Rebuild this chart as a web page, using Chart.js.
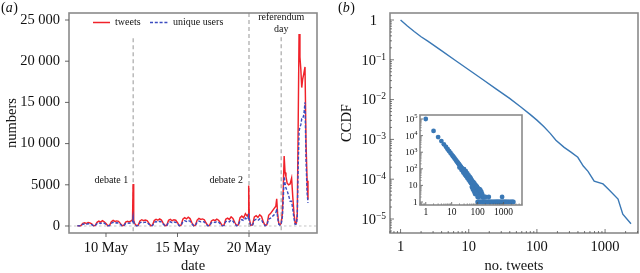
<!DOCTYPE html>
<html><head><meta charset="utf-8">
<script src="https://cdn.jsdelivr.net/npm/chart.js@4"></script>
<style>
html,body{margin:0;padding:0;background:#fff;width:640px;height:273px;overflow:hidden}
canvas{position:absolute}
#c1{left:0;top:0}
#c2{left:320px;top:0}
#c3{left:380px;top:105px}
</style></head><body>
<canvas id="c1" width="320" height="273"></canvas>
<canvas id="c2" width="320" height="273"></canvas>
<canvas id="c3" width="150" height="120"></canvas>
<script>
// ---------- DATA: panel (a) ----------
// hours since 8 May 00:00
const dayHours = [
  0, 3, 6, 9, 12, 15, 18, 21,
  24, 27, 30, 33, 36, 39, 42, 45,
  48, 51, 54, 57, 60, 63, 66, 69,
  72, 75, 78, 81, 84, 87, 90, 92.5, 93.5, 94.5,
  96, 99, 102, 105, 108, 111, 114, 117,
  120, 123, 126, 129, 132, 135, 138, 141,
  144, 147, 150, 153, 156, 159, 162, 165,
  168, 171, 174, 177, 180, 183, 186, 189,
  192, 195, 198, 201, 204, 207, 210, 213,
  216, 219, 222, 225, 228, 231, 234, 237,
  240, 243, 246, 249, 252, 255, 258, 261,
  264, 267, 270, 273, 276, 279, 282, 285, 286.5, 287.5,
  288.5, 291, 294, 297, 300, 303, 306, 309,
  312, 315, 318, 321, 324, 327, 330, 333, 334.5, 336, 338, 340,
  342, 344, 345.5, 347, 348.5, 350, 352, 354.5, 357, 359.5, 361.5, 363.5,
  365.5, 367.5, 369, 370.5, 372, 373.5, 375, 376.5, 378, 380, 382, 383.7, 385.5, 387
];
const tweets = [
  40, 20, 60, 330, 380, 300, 420, 380,
  260, 40, 70, 450, 600, 480, 650, 520,
  300, 40, 80, 520, 680, 560, 620, 560,
  320, 40, 80, 480, 560, 500, 620, 750, 5100, 700,
  300, 40, 90, 620, 760, 640, 720, 660,
  340, 45, 90, 660, 820, 700, 860, 720,
  350, 45, 90, 700, 800, 640, 760, 700,
  400, 50, 110, 820, 1000, 860, 1060, 900,
  420, 50, 100, 720, 920, 800, 860, 760,
  360, 45, 80, 620, 760, 650, 820, 700,
  400, 50, 100, 820, 960, 800, 1120, 920,
  450, 60, 120, 1000, 1200, 1000, 1500, 1200, 1400, 4900,
  900, 80, 150, 1100, 1250, 1050, 1350, 1150,
  500, 60, 150, 1300, 1500, 1800, 2100, 2400, 3300, 1500, 300, 150,
  300, 1500, 4500, 8500, 6500, 6000, 5200, 5000, 5100, 5800, 3500, 1500,
  300, 350, 1500, 12000, 23300, 20500, 19000, 16800, 17800, 18500, 19300, 10100, 5500, 3200
];
const users = [
  25, 12, 40, 220, 250, 200, 280, 250,
  170, 25, 45, 300, 390, 310, 420, 340,
  200, 25, 50, 340, 440, 360, 400, 360,
  210, 25, 50, 310, 370, 330, 400, 480, 1100, 450,
  200, 25, 55, 400, 490, 410, 470, 430,
  220, 28, 55, 430, 530, 450, 560, 470,
  230, 28, 55, 450, 520, 410, 490, 450,
  260, 30, 70, 530, 640, 550, 680, 580,
  270, 30, 65, 460, 590, 510, 550, 490,
  230, 28, 50, 400, 490, 420, 530, 450,
  260, 30, 65, 530, 620, 510, 720, 590,
  290, 38, 75, 640, 770, 640, 960, 770, 900, 1500,
  550, 50, 95, 700, 800, 670, 860, 740,
  320, 40, 95, 830, 950, 1150, 1350, 1550, 2100, 1000, 200, 100,
  200, 1100, 3200, 6000, 5200, 4600, 4300, 3700, 3000, 3000, 2000, 900,
  200, 250, 1000, 7000, 11500, 12000, 12300, 13000, 13000, 13500, 15000, 8000, 4000, 2800
];
const dateTicks = [10, 15, 20];
const dateTickLabels = ['10 May', '15 May', '20 May'];
const countTicks = [0, 5000, 10000, 15000, 20000, 25000];
const countTickLabels = ['0', '5000', '10 000', '15 000', '20 000', '25 000'];
const eventDays = [11.9, 20.0, 22.25];
const seriesNames = ['tweets', 'unique users'];

// ---------- DATA: panel (b) ----------
const ccdfX = [1, 1.26, 1.585, 2.0, 2.51, 3.98, 6.31, 10, 15.85, 25.1, 39.8, 57.5, 79.4, 100, 126, 158, 190, 251, 316, 398, 479, 562, 692, 933, 1122, 1549, 1820, 2400];
const ccdfY = [1, 0.708, 0.513, 0.38, 0.295, 0.17, 0.0977, 0.0562, 0.0324, 0.0186, 0.0107, 0.00661, 0.00425, 0.00305, 0.00210, 0.00140, 0.000955, 0.000631, 0.000479, 0.000355, 0.000214, 0.000158, 8.9e-5, 7.6e-5, 5.6e-5, 3.16e-5, 1.32e-5, 7.6e-6];
const ccdfXTicks = [1, 10, 100, 1000];
const ccdfXTickLabels = ['1', '10', '100', '1000'];
const ccdfYTicks = [1, 1e-1, 1e-2, 1e-3, 1e-4, 1e-5];
const ccdfYExp = ['', '−1', '−2', '−3', '−4', '−5'];

// inset: number of users with n tweets
const insetN = [
  1, 2, 3, 4, 5, 6, 7, 8, 9, 10,
  11, 12, 13, 14, 15, 16, 17, 18, 19, 20,
  21, 22, 23, 24, 25, 26, 27, 28, 29, 30,
  32, 34, 36, 38, 40, 42, 44, 46, 48, 50,
  20, 24, 28, 32, 36, 40, 45, 50, 55, 60,
  30, 35, 40, 45, 50, 55, 60, 65, 70, 75,
  55, 60, 65, 70, 75, 80, 85, 90, 95, 100,
  60, 65, 70, 75, 80, 85, 90, 95, 100, 105,
  110, 115, 120, 125, 130, 140, 150, 160, 170, 180,
  80, 90, 100, 110, 120, 130, 140, 150, 160, 170,
  100, 110, 120, 130, 140, 150, 180, 190, 200, 210,
  220, 240, 260, 270, 280, 300, 330, 360, 400, 440,
  480, 520, 560, 600, 650, 700, 760, 820, 880, 950,
  1000, 1100, 1200, 1300, 1450, 1600, 1800, 2000, 2200, 2400
];
const insetCount = [
  100000, 19000, 8200, 4700, 3000, 2100, 1500, 1150, 900, 720,
  600, 500, 420, 360, 310, 270, 240, 210, 190, 170,
  150, 138, 125, 115, 105, 96, 90, 82, 76, 70,
  62, 54, 48, 43, 38, 34, 31, 28, 26, 23,
  120, 85, 60, 45, 36, 28, 22, 17, 14, 12,
  95, 72, 52, 40, 32, 26, 20, 17, 15, 13,
  20, 16, 13, 10, 9, 8, 7, 6, 5, 5,
  8, 6, 5, 4, 11, 10, 9, 8, 7, 6,
  5, 4, 4, 3, 3, 3, 2, 2, 2, 2,
  3, 3, 2, 2, 6, 5, 4, 3, 1, 1,
  1, 1, 1, 1, 1, 1, 1, 1, 2, 1,
  1, 1, 1, 2, 1, 1, 1, 1, 1, 1,
  1, 1, 1, 1, 1, 1, 1, 1, 2, 1,
  1, 1, 1, 1, 1, 1, 1, 1, 1, 1
];
const insetXTicks = [1, 10, 100, 1000];
const insetXTickLabels = ['1', '10', '100', '1000'];
const insetYTicks = [1e5, 1e4, 1e3, 1e2, 10, 1];
const insetYBase = ['10', '10', '10', '10', '10', '1'];
const insetYExp = ['5', '4', '3', '2', '', ''];

// ---------- STYLE ----------
const FONT = "'Liberation Serif', 'DejaVu Serif', 'Times New Roman', serif";
const FRAME = '#8a8a8a';
const TICKC = '#555';
const RED = '#f0222a';
const BLUE = '#3b4cc0';
const STEEL = '#3a78b5';
Chart.defaults.font.family = FONT;
Chart.defaults.color = '#111';

function fixAxis(dim, val) {
  return s => { s[dim] = val; s.paddingTop = 0; s.paddingBottom = 0; s.paddingLeft = 0; s.paddingRight = 0; };
}
function frame(ctx, a) {
  ctx.save(); ctx.strokeStyle = FRAME; ctx.lineWidth = 1.6;
  ctx.strokeRect(a.left, a.top, a.right - a.left, a.bottom - a.top); ctx.restore();
}
function line(ctx, x1, y1, x2, y2) { ctx.beginPath(); ctx.moveTo(x1, y1); ctx.lineTo(x2, y2); ctx.stroke(); }
function logValues(min, max) {
  const out = [];
  for (let e = Math.floor(Math.log10(min)) - 1; e <= Math.ceil(Math.log10(max)); e++) {
    for (let k = 1; k <= 9; k++) { const v = k * Math.pow(10, e); if (v >= min && v <= max) out.push({ v, major: k === 1 }); }
  }
  return out;
}
function logTicks(ctx, chart, majLen, minLen) {
  const a = chart.chartArea, xs = chart.scales.x, ys = chart.scales.y;
  ctx.save(); ctx.strokeStyle = TICKC; ctx.lineWidth = 0.8;
  logValues(xs.min, xs.max).forEach(t => { const p = xs.getPixelForValue(t.v); line(ctx, p, a.bottom, p, a.bottom - (t.major ? majLen : minLen)); });
  logValues(ys.min, ys.max).forEach(t => { const p = ys.getPixelForValue(t.v); line(ctx, a.left, p, a.left + (t.major ? majLen : minLen), p); });
  ctx.restore();
}
function powLabel(ctx, xRight, y, base, exp, fs, efs, raise) {
  ctx.save(); ctx.fillStyle = '#111'; ctx.textAlign = 'left'; ctx.textBaseline = 'alphabetic';
  ctx.font = fs + 'px ' + FONT; const wb = ctx.measureText(base).width;
  ctx.font = efs + 'px ' + FONT; const we = exp ? ctx.measureText(exp).width : 0;
  const x0 = xRight - wb - we, bl = y + fs * 0.33;
  ctx.font = fs + 'px ' + FONT; ctx.fillText(base, x0, bl);
  if (exp) { ctx.font = efs + 'px ' + FONT; ctx.fillText(exp, x0 + wb, bl - raise); }
  ctx.restore();
}
function text(ctx, s, x, y, size, align, rot, italic) {
  ctx.save(); ctx.fillStyle = '#111'; ctx.font = (italic ? 'italic ' : '') + size + 'px ' + FONT;
  ctx.textAlign = align; ctx.textBaseline = 'middle'; ctx.translate(x, y);
  if (rot) ctx.rotate(rot); ctx.fillText(s, 0, 0); ctx.restore();
}
function panelLabel(ctx, letter, x, y) {
  ctx.save(); ctx.fillStyle = '#111'; ctx.textBaseline = 'middle'; ctx.textAlign = 'left';
  ctx.font = '14px ' + FONT; ctx.fillText('(', x, y); let w = ctx.measureText('(').width;
  ctx.font = 'italic 14px ' + FONT; ctx.fillText(letter, x + w, y); w += ctx.measureText(letter).width;
  ctx.font = '14px ' + FONT; ctx.fillText(')', x + w + 0.5, y); ctx.restore();
}

// ---------- PANEL (a) ----------
const aPlugin = {
  id: 'aPlugin',
  beforeDatasetsDraw(chart) {
    const ctx = chart.ctx, a = chart.chartArea, xs = chart.scales.x, ys = chart.scales.y;
    ctx.save();
    ctx.strokeStyle = '#c4c4c4'; ctx.lineWidth = 1; ctx.setLineDash([2.5, 2.5]);
    const y0 = ys.getPixelForValue(0); line(ctx, a.left, y0, a.right, y0);
    ctx.strokeStyle = '#a8a8a8'; ctx.lineWidth = 1.2; ctx.setLineDash([4, 3]);
    const tops = [ys.getPixelForValue(22800), a.top, ys.getPixelForValue(22900)];
    eventDays.forEach((d, i) => { const x = xs.getPixelForValue(d); line(ctx, x, tops[i], x, a.bottom); });
    ctx.restore();
  },
  afterDraw(chart) {
    const ctx = chart.ctx, a = chart.chartArea, xs = chart.scales.x, ys = chart.scales.y;
    frame(ctx, a);
    ctx.save(); ctx.strokeStyle = TICKC; ctx.lineWidth = 0.9;
    countTicks.forEach(v => { const p = ys.getPixelForValue(v); line(ctx, a.left - 4, p, a.left, p); });
    dateTicks.forEach(v => { const p = xs.getPixelForValue(v); line(ctx, p, a.bottom, p, a.bottom + 4); });
    ctx.restore();
    const e1 = xs.getPixelForValue(eventDays[0]), e2 = xs.getPixelForValue(eventDays[1]), e3 = xs.getPixelForValue(eventDays[2]);
    const ty = ys.getPixelForValue(5500);
    text(ctx, 'debate 1', e1 - 5, ty, 10, 'right');
    text(ctx, 'debate 2', e2 - 6, ty, 10, 'right');
    text(ctx, 'referendum', e3, 17, 10, 'center');
    text(ctx, 'day', e3, 29, 10, 'center');
    // legend
    ctx.save(); ctx.lineWidth = 1.5;
    ctx.strokeStyle = RED; line(ctx, 93, 22.5, 110, 22.5);
    ctx.strokeStyle = BLUE; ctx.setLineDash([3, 1.8]); line(ctx, 150, 22.5, 168, 22.5);
    ctx.restore();
    text(ctx, seriesNames[0], 115, 22, 10, 'left');
    text(ctx, seriesNames[1], 173, 22, 10, 'left');
    text(ctx, 'numbers', 12, (a.top + a.bottom) / 2, 14.5, 'center', -Math.PI / 2);
    text(ctx, 'date', (a.left + a.right) / 2, 266, 14.5, 'center');
    panelLabel(ctx, 'a', 1, 8);
  }
};

new Chart(document.getElementById('c1'), {
  type: 'line',
  data: {
    datasets: [
      { label: seriesNames[0], data: dayHours.map((h, i) => ({ x: 8 + h / 24, y: tweets[i] })),
        borderColor: RED, borderWidth: 1.45, pointRadius: 0, order: 2 },
      { label: seriesNames[1], data: dayHours.map((h, i) => ({ x: 8 + h / 24, y: users[i] })),
        borderColor: BLUE, borderWidth: 1.4, borderDash: [3, 1.8], pointRadius: 0, order: 1 }
    ]
  },
  options: {
    responsive: false, animation: false, devicePixelRatio: 1,
    layout: { padding: { left: 0, top: 13, right: 3, bottom: 0 } },
    plugins: { legend: { display: false }, tooltip: { enabled: false } },
    scales: {
      x: { type: 'linear', min: 7.413, max: 24.755,
        grid: { display: false, drawTicks: false }, border: { display: false },
        afterBuildTicks: s => { s.ticks = dateTicks.map(v => ({ value: v })); },
        afterFit: fixAxis('height', 40),
        ticks: { autoSkip: false, maxRotation: 0, padding: 6, font: { size: 14.5 }, color: '#111',
          callback: v => dateTickLabels[dateTicks.indexOf(v)] } },
      y: { type: 'linear', min: -850, max: 25850,
        grid: { display: false, drawTicks: false }, border: { display: false },
        afterBuildTicks: s => { s.ticks = countTicks.map(v => ({ value: v })); },
        afterFit: fixAxis('width', 69),
        ticks: { autoSkip: false, padding: 9, font: { size: 14.5 }, color: '#111',
          callback: v => countTickLabels[countTicks.indexOf(v)] } }
    }
  },
  plugins: [aPlugin]
});

// ---------- PANEL (b) ----------
const bPlugin = {
  id: 'bPlugin',
  afterDraw(chart) {
    const ctx = chart.ctx, a = chart.chartArea, ys = chart.scales.y;
    frame(ctx, a);
    logTicks(ctx, chart, 4, 2);
    ccdfYTicks.forEach((v, i) => {
      const p = ys.getPixelForValue(v);
      if (ccdfYExp[i]) powLabel(ctx, a.left - 4, p, '10', ccdfYExp[i], 14.5, 9.5, 5);
      else powLabel(ctx, a.left - 13, p, '1', '', 14.5, 9.5, 5);
    });
    text(ctx, 'CCDF', 27, (a.top + a.bottom) / 2, 14.5, 'center', -Math.PI / 2);
    text(ctx, 'no. tweets', (a.left + a.right) / 2, 266, 14.5, 'center');
    panelLabel(ctx, 'b', 18, 8);
  }
};
new Chart(document.getElementById('c2'), {
  type: 'line',
  data: { datasets: [{ data: ccdfX.map((x, i) => ({ x, y: ccdfY[i] })), borderColor: STEEL, borderWidth: 1.4, pointRadius: 0 }] },
  options: {
    responsive: false, animation: false, devicePixelRatio: 1,
    layout: { padding: { left: 0, top: 13, right: 2, bottom: 0 } },
    plugins: { legend: { display: false }, tooltip: { enabled: false } },
    scales: {
      x: { type: 'logarithmic', min: 0.714, max: 3041,
        grid: { display: false, drawTicks: false }, border: { display: false },
        afterBuildTicks: s => { s.ticks = ccdfXTicks.map(v => ({ value: v })); },
        afterFit: fixAxis('height', 40),
        ticks: { autoSkip: false, maxRotation: 0, padding: 5, font: { size: 14.5 }, color: '#111',
          callback: v => ccdfXTickLabels[ccdfXTicks.indexOf(v)] } },
      y: { type: 'logarithmic', min: 4.45e-6, max: 1.5,
        grid: { display: false, drawTicks: false }, border: { display: false },
        afterBuildTicks: s => { s.ticks = ccdfYTicks.map(v => ({ value: v })); },
        afterFit: fixAxis('width', 70),
        ticks: { display: false } }
    }
  },
  plugins: [bPlugin]
});

// ---------- INSET ----------
const cPlugin = {
  id: 'cPlugin',
  beforeDraw(chart) {
    const ctx = chart.ctx, a = chart.chartArea;
    ctx.save(); ctx.fillStyle = '#fff'; ctx.fillRect(a.left, a.top, a.right - a.left, a.bottom - a.top); ctx.restore();
  },
  afterDraw(chart) {
    const ctx = chart.ctx, a = chart.chartArea, ys = chart.scales.y;
    logTicks(ctx, chart, 3, 1.5);
    frame(ctx, a);
    insetYTicks.forEach((v, i) => {
      const p = ys.getPixelForValue(v);
      powLabel(ctx, a.left - 2.5, p, insetYBase[i], insetYExp[i], 9, 6.5, 3.5);
    });
  }
};
new Chart(document.getElementById('c3'), {
  type: 'scatter',
  data: { datasets: [{ data: insetN.map((n, i) => ({ x: n, y: insetCount[i] })), backgroundColor: STEEL, borderWidth: 0, pointRadius: 2.4 }] },
  options: {
    responsive: false, animation: false, devicePixelRatio: 1,
    layout: { padding: { left: 0, top: 10, right: 8, bottom: 0 } },
    plugins: { legend: { display: false }, tooltip: { enabled: false } },
    scales: {
      x: { type: 'logarithmic', min: 0.64, max: 5150,
        grid: { display: false, drawTicks: false }, border: { display: false },
        afterBuildTicks: s => { s.ticks = insetXTicks.map(v => ({ value: v })); },
        afterFit: fixAxis('height', 20),
        ticks: { autoSkip: false, maxRotation: 0, padding: 1.5, font: { size: 9.5 }, color: '#111',
          callback: v => insetXTickLabels[insetXTicks.indexOf(v)] } },
      y: { type: 'logarithmic', min: 0.66, max: 174000,
        grid: { display: false, drawTicks: false }, border: { display: false },
        afterBuildTicks: s => { s.ticks = insetYTicks.map(v => ({ value: v })); },
        afterFit: fixAxis('width', 40),
        ticks: { display: false } }
    }
  },
  plugins: [cPlugin]
});
</script>
</body></html>
